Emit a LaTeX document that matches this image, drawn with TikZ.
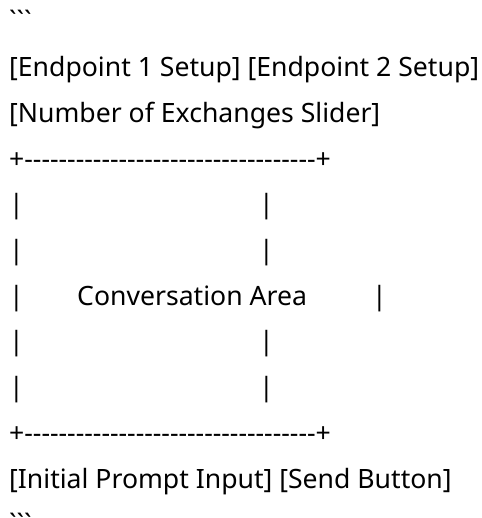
\documentclass[tikz,border=0pt]{standalone}
\usepackage{fontspec}
\newfontfamily\mdfont{Noto Sans}
\begin{document}
\begin{tikzpicture}[
        x=1pt, y=-1pt,
        mdline/.style={anchor=base west, inner sep=0pt, font=\mdfont\fontsize{26.6}{30}\selectfont},
    ]
    \useasboundingbox (0,0) rectangle (481,518);

    % Left margin, first baseline and line pitch
    \def\lx{9}
    \def\top{31}
    \def\pitch{45.7}
    \def\boxedge{+----------------------------------+}
    \def\fence{\symbol{96}\symbol{96}\symbol{96}}

    % Code fence and the two control lines
    \node[mdline] (fenceTop) at (\lx, \top) {\fence};
    \node[mdline] (setupLine) at (\lx, \top+1*\pitch) {[Endpoint 1 Setup] [Endpoint 2 Setup]};
    \node[mdline] (sliderLine) at (\lx, \top+2*\pitch) {[Number of Exchanges Slider]};

    % Box top and bottom
    \node[mdline] (boxTop) at (\lx, \top+3*\pitch) {\boxedge};
    \node[mdline] (boxBottom) at (\lx, \top+9*\pitch) {\boxedge};

    % Box sides
    \foreach \r in {1,2,4,5} {
        \node[mdline] (barL\r) at (\lx, \top+\r*\pitch+3*\pitch) {|};
        \node[mdline] (barR\r) at (259, \top+\r*\pitch+3*\pitch) {|};
    }
    \node[mdline] (barL3) at (\lx, \top+6*\pitch) {|};
    \node[mdline] (convArea) at (77, \top+6*\pitch) {Conversation Area};
    \node[mdline] (barR3) at (372, \top+6*\pitch) {|};

    % Input line and closing fence
    \node[mdline] (promptLine) at (\lx, \top+10*\pitch) {[Initial Prompt Input] [Send Button]};
    \node[mdline] (fenceBottom) at (\lx, \top+11*\pitch) {\fence};

\end{tikzpicture}
\end{document}
